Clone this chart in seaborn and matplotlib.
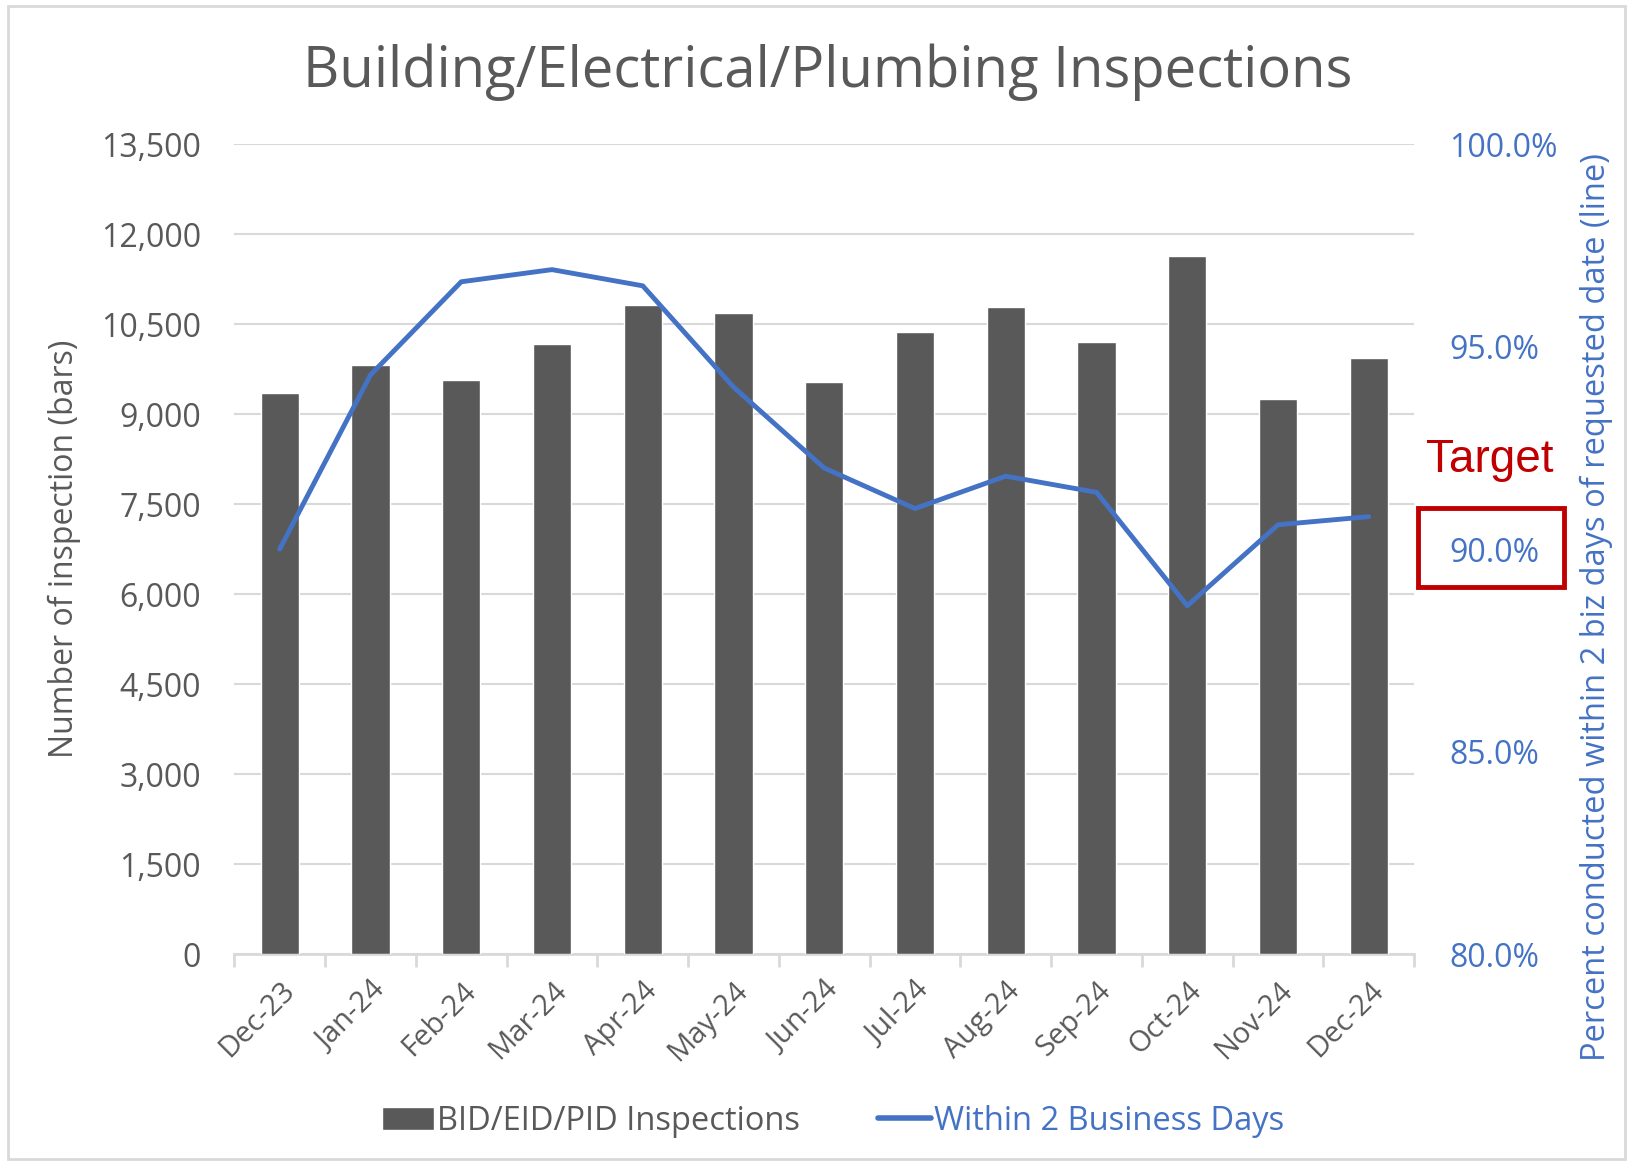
import numpy as np
import pandas as pd
import seaborn as sns
import matplotlib.pyplot as plt
from matplotlib.patches import Rectangle, Patch
from matplotlib.lines import Line2D
from matplotlib.ticker import FuncFormatter, FixedLocator

months = ["Dec-23", "Jan-24", "Feb-24", "Mar-24", "Apr-24", "May-24", "Jun-24",
          "Jul-24", "Aug-24", "Sep-24", "Oct-24", "Nov-24", "Dec-24"]
inspections = [9350, 9820, 9560, 10170, 10810, 10690, 9540,
               10360, 10780, 10200, 11630, 9250, 9940]
within_2_days = [90.0, 94.3, 96.6, 96.9, 96.5, 94.0, 92.0,
                 91.0, 91.8, 91.4, 88.6, 90.6, 90.8]

sns.set_theme(style="white")
plt.rcParams['font.family'] = ['Open Sans', 'DejaVu Sans']

GRAY_TXT = "#595959"
BLUE = "#4472C4"
GRID = "#D9D9D9"

df = pd.DataFrame({"month": months, "count": inspections, "pct": within_2_days})
df["pos"] = np.arange(len(months))

fig = plt.figure(figsize=(16.33, 11.62), dpi=100)
ax = fig.add_axes([0.1435, 0.179, 0.7225, 0.697])

# bars
sns.barplot(data=df, x="month", y="count", ax=ax, color="#595959",
            saturation=1, width=0.42, zorder=3)
ax.set_ylim(0, 13500)
ax.set_xlim(-0.5, len(months) - 0.5)
ax.set_yticks(np.arange(0, 13501, 1500))
ax.yaxis.set_major_formatter(FuncFormatter(lambda v, p: f"{v:,.0f}"))
ax.grid(axis="y", color=GRID, linewidth=1.5, zorder=0)
ax.set_axisbelow(True)
for s in ["top", "right", "left"]:
    ax.spines[s].set_visible(False)
ax.spines["bottom"].set_color(GRID)
ax.spines["bottom"].set_linewidth(2)
ax.tick_params(axis="y", length=0, labelsize=23, labelcolor=GRAY_TXT, pad=24)
ax.tick_params(axis="x", which="major", length=0, labelsize=21, labelcolor=GRAY_TXT, pad=16)
ax.xaxis.set_minor_locator(FixedLocator(np.arange(-0.5, len(months), 1.0)))
ax.tick_params(axis="x", which="minor", length=9, width=2, color=GRID, bottom=True)
plt.setp(ax.get_xticklabels(), rotation=45, ha="right", rotation_mode="anchor")
ax.set_xlabel("")
ax.set_ylabel("Number of inspection (bars)", fontsize=23, color=GRAY_TXT, labelpad=14)

# line on the secondary axis
ax2 = ax.twinx()
sns.lineplot(data=df, x="pos", y="pct", ax=ax2, color=BLUE, linewidth=3.5,
             legend=False)
ax2.set_ylim(80, 100)
ax2.set_yticks([80, 85, 90, 95, 100])
ax2.yaxis.set_major_formatter(FuncFormatter(lambda v, p: f"{v:.1f}%"))
for s in ax2.spines.values():
    s.set_visible(False)
ax2.tick_params(axis="y", length=0, labelsize=23, labelcolor=BLUE, pad=25)
ax2.set_ylabel("Percent conducted within 2 biz days of requested date (line)",
               fontsize=23.5, color=BLUE)
ax2.yaxis.set_label_coords(1.14, 0.428)
ax2.set_xlabel("")

fig.suptitle("Building/Electrical/Plumbing Inspections", fontsize=40.5,
             color=GRAY_TXT, x=0.507, y=0.938, va="center")

# target annotation
fig.text(0.912, 0.604, "Target", fontsize=33, color="#C00000",
         family=["Liberation Sans", "DejaVu Sans"], ha="center", va="center")
fig.patches.append(Rectangle((0.8686, 0.4946), 0.0893, 0.068, transform=fig.transFigure,
                             fill=False, edgecolor="#C00000", linewidth=3.5))

# legend
handles = [Patch(facecolor="#595959", label="BID/EID/PID Inspections"),
           Line2D([0], [0], color=BLUE, linewidth=4, label="Within 2 Business Days")]
leg = fig.legend(handles=handles, loc="center", bbox_to_anchor=(0.510, 0.035),
                 ncol=2, frameon=False, fontsize=23.5, handlelength=1.6,
                 handletextpad=0.1, columnspacing=2.4)
leg.get_texts()[0].set_color(GRAY_TXT)
leg.get_texts()[1].set_color(BLUE)

# chart border
fig.patches.append(Rectangle((0.005, 0.003), 0.99, 0.992, transform=fig.transFigure,
                             fill=False, edgecolor=GRID, linewidth=2))

fig.savefig("out.png", dpi=100)
